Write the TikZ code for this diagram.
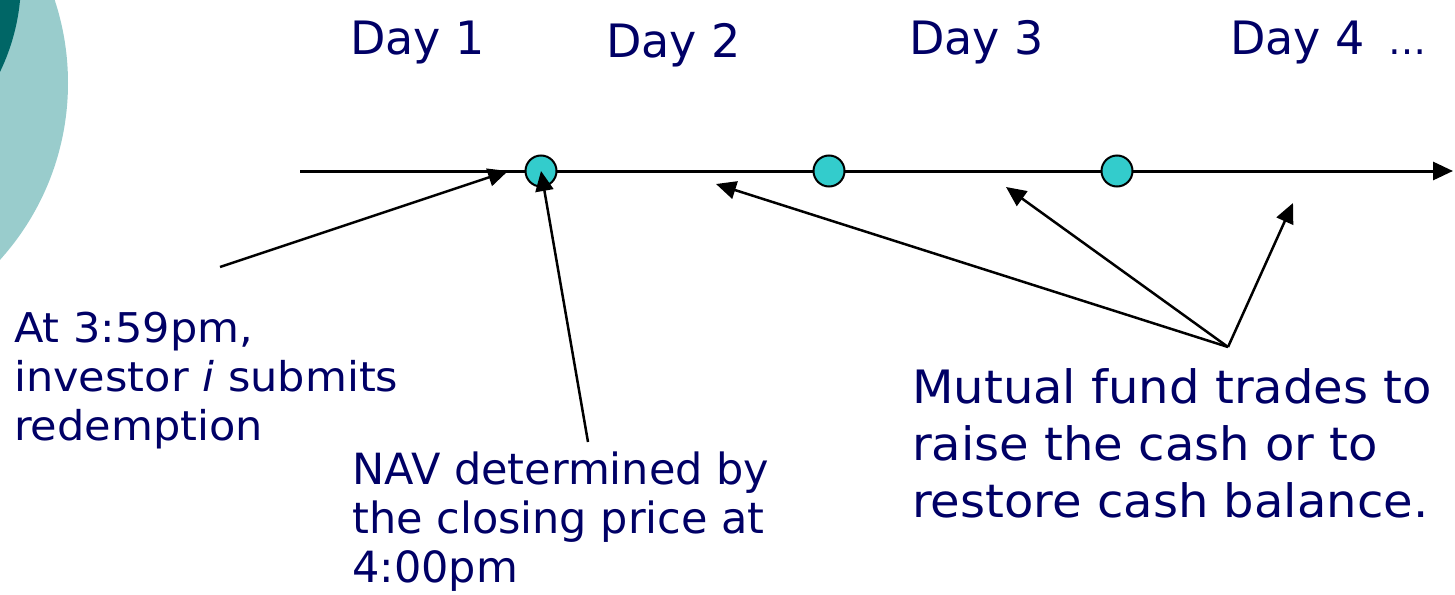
\documentclass[tikz,border=0pt]{standalone}
\usepackage{fontspec}
\setmainfont{DejaVu Sans}
\usetikzlibrary{arrows.meta}
\definecolor{navy}{RGB}{0,0,102}
\definecolor{lightteal}{RGB}{153,204,204}
\definecolor{darkteal}{RGB}{0,102,102}
\definecolor{dotfill}{RGB}{51,204,204}
\tikzset{
  lbl/.style={inner sep=0pt, anchor=base west, text=navy, align=left},
  dayfont/.style={font=\fontsize{46}{57}\selectfont},
  bigfont/.style={font=\addfontfeature{FakeStretch=1.045}\fontsize{46}{57}\selectfont},
  smallfont/.style={font=\addfontfeature{FakeStretch=1.05}\fontsize{41}{49}\selectfont},
  navfont/.style={font=\fontsize{43}{49}\selectfont},
  dot/.style={circle, draw=black, line width=2pt, fill=dotfill, minimum size=31pt, inner sep=0pt},
  tip/.style={-{Triangle[length=20pt,width=18pt]}},
  pointer/.style={draw=black, line width=2.5pt, tip},
}
\begin{document}
\begin{tikzpicture}[x=1pt,y=-1pt]
\useasboundingbox (0,0) rectangle (1455,594);
\begin{scope}
  \clip (0,0) rectangle (1455,594);
  \fill[lightteal] (-196,83) circle[radius=264];
  \fill[darkteal] (-190,-20) circle[radius=211];
\end{scope}
% timeline
\coordinate (tl0) at (300,171);
\coordinate (tl1) at (1453,171);
\draw[line width=3pt, tip] (tl0) -- (tl1);
\node[dot] (c1) at (541,171) {};
\node[dot] (c2) at (829,171) {};
\node[dot] (c3) at (1117,171) {};
% day labels
\node[lbl, dayfont] (d1) at (350,55) {Day 1};
\node[lbl, dayfont] (d2) at (606,58) {Day 2};
\node[lbl, dayfont] (d3) at (909,55) {Day 3};
\node[lbl, dayfont] (d4) at (1230,55) {Day 4\hspace{24pt}\fontsize{38}{38}\selectfont\ldots};
% text blocks
\node[lbl, smallfont] (inv) at (14,440) {At 3:59pm,\\investor \textit{i} submits\\redemption};
\node[lbl, navfont] (nav) at (352,582) {NAV determined by\\the closing price at\\4:00pm};
\node[lbl, bigfont] (mf) at (912,517) {Mutual fund trades to\\raise the cash or to\\restore cash balance.};
% arrow coordinates
\coordinate (a1s) at (220,267);
\coordinate (a1e) at (508,171);
\coordinate (a2s) at (588,442);
\coordinate (hub) at (1228,347);
\coordinate (t2) at (716,184);
\coordinate (t3) at (1006,187);
\coordinate (t4) at (1293,203);
\draw[pointer] (a1s) -- (a1e);
\draw[pointer] (a2s) -- (c1.center);
\draw[pointer] (hub) -- (t2);
\draw[pointer] (hub) -- (t3);
\draw[pointer] (hub) -- (t4);
\end{tikzpicture}
\end{document}
